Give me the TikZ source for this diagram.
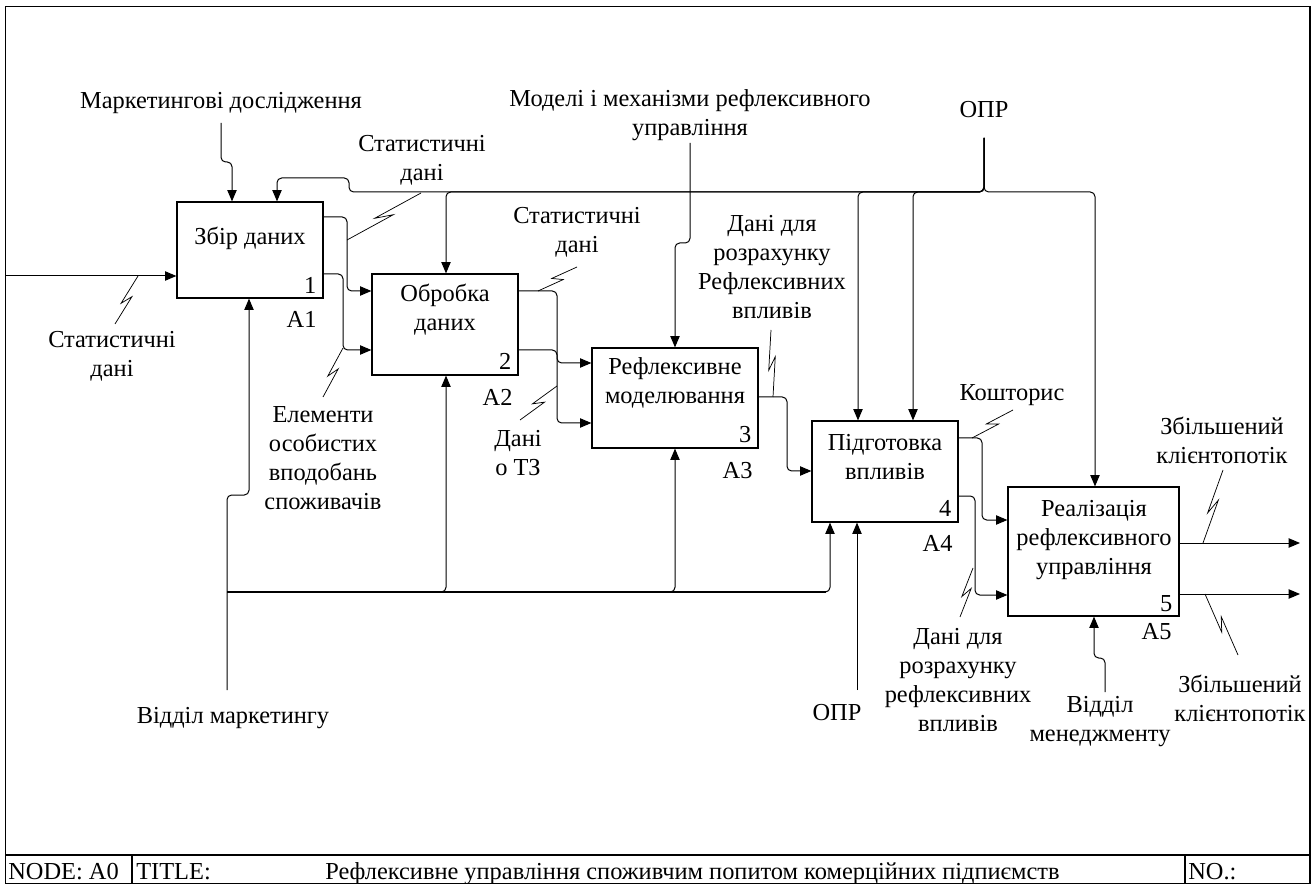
\documentclass[tikz,border=0pt]{standalone}
\usepackage{fontspec}
\setmainfont{LiberationSerif}[Extension=.ttf, UprightFont=*-Regular, BoldFont=*-Bold]
\usetikzlibrary{arrows.meta,calc}
\newcommand\lbfont{\fontsize{18.3pt}{21.75pt}\selectfont}
% IDEF0 squiggle: from a point on an arrow to its label
\newcommand\zigline[2]{\draw[squig] (#1) -- ($(#1)!0.6!(#2)!2.6pt!-90:(#2)$) -- ($(#1)!0.4!(#2)!2.6pt!90:(#2)$) -- (#2);}
\begin{document}
\begin{tikzpicture}[x=0.75pt,y=-0.75pt,
  box/.style={draw, line width=0.9pt, inner sep=0pt},
  flow/.style={line width=0.75pt, rounded corners=3.5pt},
  arr/.style={flow, -{Triangle[length=8.5pt,width=7pt]}},
  squig/.style={line width=0.55pt, line join=miter},
  lbl/.style={font=\lbfont, align=center, inner sep=0pt},
  frame/.style={line width=1.1pt}]
\useasboundingbox (0,0) rectangle (1315,884);

% frame and footer
\draw[frame] (5.5,6.5) rectangle (1310,883.5);
\draw[frame] (5.5,855) -- (1310,855);
\draw[frame] (132,855) -- (132,883.5);
\draw[frame] (1185,855) -- (1185,883.5);
\node[lbl, anchor=base west] (fnode) at (8,879) {NODE: A0};
\node[lbl, anchor=base west] (ftitle) at (136,879) {TITLE:};
\node[lbl, anchor=base west] (fname) at (325,879) {Рефлексивне управління споживчим попитом комерційних підпиємств};
\node[lbl, anchor=base west] (fno) at (1188,879) {NO.:};

% activity boxes
\node[box, minimum width=109.5pt, minimum height=72pt] (b1) at (250,250) {};
\node[box, minimum width=109.5pt, minimum height=75.75pt] (b2) at (445,324.5) {};
\node[box, minimum width=124.5pt, minimum height=75pt] (b3) at (675,398) {};
\node[box, minimum width=109.5pt, minimum height=75.75pt] (b4) at (885,471.5) {};
\node[box, minimum width=128.25pt, minimum height=96.75pt] (b5) at (1093.5,551.5) {};

\node[lbl] (t1) at (250,238) {Збір даних};
\node[lbl] (t2) at (445,310) {Обробка\\даних};
\node[lbl] (t3) at (675,382.5) {Рефлексивне\\моделювання};
\node[lbl] (t4) at (885,457) {Підготовка\\впливів};
\node[lbl] (t5) at (1094,540) {Реалізація\\рефлексивного\\управління};

\node[lbl, anchor=base east] (n1) at ($(b1.south east)+(-7,-5)$) {1};
\node[lbl, anchor=base east] (n2) at ($(b2.south east)+(-7,-6)$) {2};
\node[lbl, anchor=base east] (n3) at ($(b3.south east)+(-7,-6)$) {3};
\node[lbl, anchor=base east] (n4) at ($(b4.south east)+(-7,-6)$) {4};
\node[lbl, anchor=base east] (n5) at ($(b5.south east)+(-7,-5)$) {5};

\node[lbl] (a1) at ($(b1.south east)+(-22,21)$) {A1};
\node[lbl] (a2) at ($(b2.south east)+(-21,22)$) {A2};
\node[lbl] (a3) at ($(b3.south east)+(-21,22)$) {A3};
\node[lbl] (a4) at ($(b4.south east)+(-21,21)$) {A4};
\node[lbl] (a5) at ($(b5.south east)+(-23,15)$) {A5};

% input
\coordinate (i1) at (5,276);
\draw[arr] (i1) -- (i1 -| b1.west);

% controls
\node[lbl] (lmd) at (221,103) {Маркетингові дослідження};
\coordinate (c1) at (221,123);
\draw[arr] (c1) -- (221,162) -- (232,162) -- (232,0 |- b1.north);

\node[lbl] (lopr1) at (984,110) {ОПР};
\coordinate (c2) at (984,138);
\draw[arr] (c2) -- (984,192) -- (1095,192) -- (1095,0 |- b5.north);
\draw[arr] (c2) -- (984,192) -- (913,192) -- (913,0 |- b4.north);
\draw[arr] (c2) -- (984,192) -- (858,192) -- (858,0 |- b4.north);
\draw[arr] (c2) -- (984,192) -- (446,192) -- (446,0 |- b2.north);
\draw[arr] (c2) -- (984,192) -- (349,192) -- (349,178) -- (277,178) -- (277,0 |- b1.north);

\node[lbl] (lmod) at (690,115) {Моделі і механізми рефлексивного\\управління};
\coordinate (c3) at (690,143);
\draw[arr] (c3) -- (690,243) -- (675,243) -- (675,0 |- b3.north);

% outputs between boxes
\draw[arr] (b1.east |- 0,217) -- (347,217) -- (347,291) -- (b2.west |- 0,291);
\draw[arr] (b1.east |- 0,274) -- (343,274) -- (343,350) -- (b2.west |- 0,350);
\draw[arr] (b2.east |- 0,291) -- (557,291) -- (557,363) -- (b3.west |- 0,363);
\draw[arr] (b2.east |- 0,350) -- (557,350) -- (557,423) -- (b3.west |- 0,423);
\draw[arr] (b3.east |- 0,397) -- (787,397) -- (787,471) -- (b4.west |- 0,471);
\draw[arr] (b4.east |- 0,438) -- (982,438) -- (982,520) -- (b5.west |- 0,520);
\draw[arr] (b4.east |- 0,496) -- (975,496) -- (975,595) -- (b5.west |- 0,595);

% final outputs
\coordinate (o1) at (1300,543);
\coordinate (o2) at (1300,594);
\draw[arr] (o1 -| b5.east) -- (o1);
\draw[arr] (o2 -| b5.east) -- (o2);

% mechanisms
\node[lbl] (lvm) at (233,718) {Відділ маркетингу};
\coordinate (m1) at (227,690);
\coordinate (j1) at (227,592);
\draw[arr] (m1) -- (227,495) -- (249,495) -- (249,0 |- b1.south);
\draw[arr] (j1) -- (446,592) -- (446,0 |- b2.south);
\draw[arr] (j1) -- (675,592) -- (675,0 |- b3.south);
\draw[arr] (j1) -- (830,592) -- (830,0 |- b4.south);
\draw[line width=1pt] (j1) -- (826,592);

\node[lbl] (lopr2) at (837,713) {ОПР};
\coordinate (m2) at (857,690);
\draw[arr] (m2) -- (m2 |- b4.south);

\node[lbl] (lmen) at (1100,722) {Відділ\\менеджменту};
\coordinate (m3) at (1105,692);
\draw[arr] (m3) -- (1105,658) -- (1094,658) -- (1094,0 |- b5.south);

% arrow labels with squiggles
\node[lbl] (ls1) at (112,356) {Статистичні\\дані};
\coordinate (s1a) at (138,276); \coordinate (s1b) at (115,324);
\zigline{s1a}{s1b}

\node[lbl] (ls2) at (422,160.5) {Статистичні\\дані};
\coordinate (s2a) at (347,240); \coordinate (s2b) at (421,193);
\zigline{s2a}{s2b}

\node[lbl] (lel) at (323,458.5) {Елементи\\особистих\\вподобань\\споживачів};
\coordinate (s3a) at (343,348); \coordinate (s3b) at (323,397);
\zigline{s3a}{s3b}

\node[lbl] (ls3) at (577,232.5) {Статистичні\\дані};
\coordinate (s4a) at (538,291); \coordinate (s4b) at (577,267);
\zigline{s4a}{s4b}

\node[lbl] (ltz) at (518,453.5) {Дані\\о ТЗ};
\coordinate (s5a) at (557,386); \coordinate (s5b) at (520,420);
\zigline{s5a}{s5b}

\node[lbl] (ldr1) at (772,267) {Дані для\\розрахунку\\Рефлексивних\\впливів};
\coordinate (s6a) at (773,397); \coordinate (s6b) at (771,330);
\zigline{s6a}{s6b}

\node[lbl] (lko) at (1012,395) {Кошторис};
\coordinate (s7a) at (972,438); \coordinate (s7b) at (1013,410);
\zigline{s7a}{s7b}

\node[lbl] (ldr2) at (958,680) {Дані для\\розрахунку\\рефлексивних\\впливів};
\coordinate (s8a) at (973,568); \coordinate (s8b) at (960,617);
\zigline{s8a}{s8b}

\node[lbl] (lzb1) at (1222,440) {Збільшений\\клієнтопотік};
\coordinate (s9a) at (1203,543); \coordinate (s9b) at (1223,470);
\zigline{s9a}{s9b}

\node[lbl] (lzb2) at (1240,698) {Збільшений\\клієнтопотік};
\coordinate (s10a) at (1205,594); \coordinate (s10b) at (1238,655);
\zigline{s10a}{s10b}
\end{tikzpicture}
\end{document}
